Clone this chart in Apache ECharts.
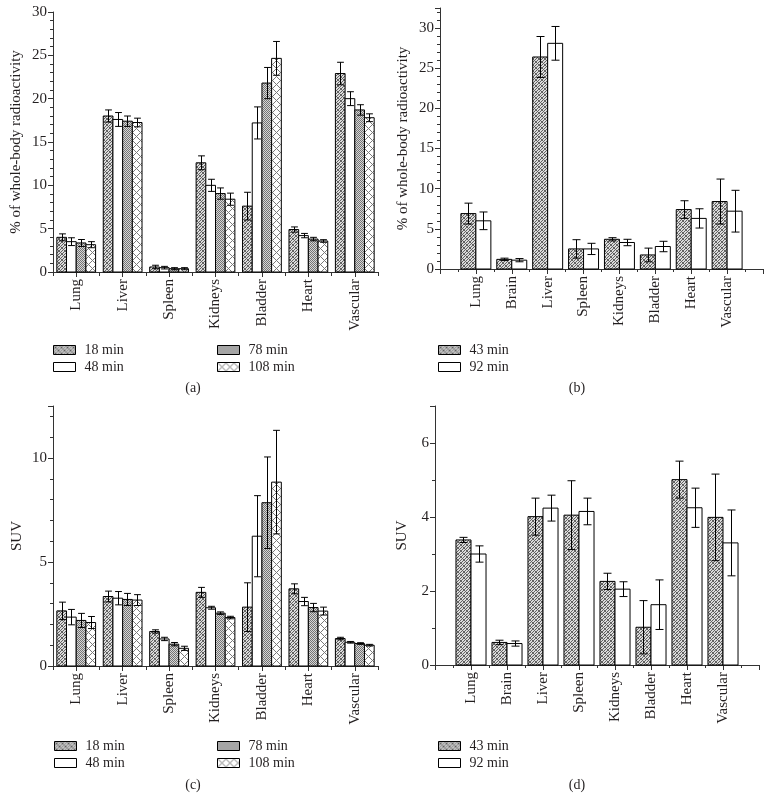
<!DOCTYPE html>
<html><head><meta charset="utf-8">
<script src="https://cdn.jsdelivr.net/npm/echarts@6/dist/echarts.min.js"></script>
<style>html,body{margin:0;padding:0;background:#fff}#c{width:773px;height:811px}</style>
</head><body><div id="c"></div>
<script>
// ---------- data ----------
const organsA = ['Lung','Liver','Spleen','Kidneys','Bladder','Heart','Vascular'];
const organsB = ['Lung','Brain','Liver','Spleen','Kidneys','Bladder','Heart','Vascular'];
const timesA = ['18 min','48 min','78 min','108 min'];
const timesB = ['43 min','92 min'];

// (a) % of whole-body radioactivity
const pctA18 = [4.0, 18.0, 0.58, 12.6, 7.6, 4.9, 22.9];
const pctA18Err = [0.4, 0.7, 0.2, 0.8, 1.6, 0.3, 1.3];
const pctA48 = [3.5, 17.6, 0.5, 10.0, 17.2, 4.2, 20.0];
const pctA48Err = [0.45, 0.8, 0.15, 0.7, 1.85, 0.25, 0.8];
const pctA78 = [3.35, 17.4, 0.38, 9.05, 21.8, 3.8, 18.7];
const pctA78Err = [0.4, 0.6, 0.12, 0.65, 1.8, 0.2, 0.6];
const pctA108 = [3.15, 17.25, 0.38, 8.4, 24.65, 3.58, 17.8];
const pctA108Err = [0.35, 0.5, 0.12, 0.7, 1.95, 0.15, 0.45];

// (b) % of whole-body radioactivity
const pctB43 = [6.9, 1.2, 26.4, 2.5, 3.7, 1.75, 7.4, 8.4];
const pctB43Err = [1.3, 0.15, 2.55, 1.15, 0.2, 0.85, 1.1, 2.8];
const pctB92 = [6.0, 1.1, 28.1, 2.5, 3.3, 2.8, 6.3, 7.2];
const pctB92Err = [1.1, 0.2, 2.1, 0.7, 0.4, 0.65, 1.2, 2.6];

// (c) SUV
const suvC18 = [2.65, 3.34, 1.66, 3.54, 2.83, 3.71, 1.32];
const suvC18Err = [0.42, 0.26, 0.08, 0.24, 1.17, 0.24, 0.06];
const suvC48 = [2.35, 3.26, 1.3, 2.8, 6.24, 3.1, 1.14];
const suvC48Err = [0.37, 0.32, 0.08, 0.07, 1.95, 0.2, 0.04];
const suvC78 = [2.19, 3.2, 1.05, 2.54, 7.85, 2.81, 1.08];
const suvC78Err = [0.34, 0.29, 0.08, 0.06, 2.2, 0.2, 0.04];
const suvC108 = [2.09, 3.17, 0.85, 2.33, 8.84, 2.64, 1.0];
const suvC108Err = [0.29, 0.26, 0.1, 0.06, 2.49, 0.19, 0.04];

// (d) SUV
const suvD43 = [3.38, 0.61, 4.01, 4.05, 2.26, 1.02, 5.01, 3.99];
const suvD43Err = [0.07, 0.06, 0.5, 0.93, 0.22, 0.72, 0.5, 1.17];
const suvD92 = [3.0, 0.58, 4.24, 4.15, 2.05, 1.63, 4.25, 3.3];
const suvD92Err = [0.22, 0.07, 0.35, 0.36, 0.2, 0.67, 0.53, 0.89];

// y tick settings
const yTicksA = {max: 30, interval: 5};
const yTicksB = {max: 32.5, interval: 5};
const yTicksC = {max: 12.5, interval: 5};
const yTicksD = {max: 7, interval: 2};

// ---------- patterns ----------
function makePattern(size, bg, fg, test) {
  const c = document.createElement('canvas');
  c.width = size; c.height = size;
  const g = c.getContext('2d');
  g.fillStyle = bg; g.fillRect(0, 0, size, size);
  g.fillStyle = fg;
  for (let x = 0; x < size; x++) for (let y = 0; y < size; y++) if (test(x, y)) g.fillRect(x, y, 1, 1);
  return {image: c, repeat: 'repeat'};
}
const patFine = makePattern(6, '#dcdcdc', '#626262', (x, y) => (x + y) % 3 === 0 || (x - y + 6) % 6 === 0);
const patDots = makePattern(4, '#d6d6d6', '#747474', (x, y) => (x + y) % 2 === 0);
const patDiamond = makePattern(8, '#ffffff', '#7a7a7a', (x, y) => (x + y) % 8 === 0 || (x - y + 8) % 8 === 0);
const patWhite = '#ffffff';

const FONT = 'Liberation Serif';
const TXT = '#231f20';

function barSeries(name, xi, yi, vals, errs, idx, n, fill, xOffset) {
  return {
    type: 'custom', name: name, xAxisIndex: xi, yAxisIndex: yi,
    data: vals.map((v, i) => [i + xOffset, v, errs[i]]),
    encode: {x: 0, y: 1},
    itemStyle: {color: fill, borderColor: '#000', borderWidth: 1},
    renderItem: function (params, api) {
      const x = api.value(0), v = api.value(1), e = api.value(2);
      const unit = api.size([1, 0])[0];
      const gw = unit * 0.835, bw = gw / n;
      const p0 = api.coord([x, 0]), p1 = api.coord([x, v]);
      const left = p0[0] - gw / 2 + idx * bw;
      const cx = Math.round(left + bw / 2) + 0.5;
      const yt = api.coord([x, v + e])[1], yb = api.coord([x, v - e])[1];
      const cap = Math.min(bw * 0.7, 8) / 2;
      const ls = {stroke: '#000', lineWidth: 1};
      return {type: 'group', children: [
        {type: 'rect', shape: {x: left, y: p1[1], width: bw, height: p0[1] - p1[1]},
          style: {fill: fill, stroke: '#000', lineWidth: 1}},
        {type: 'line', shape: {x1: cx, y1: yt, x2: cx, y2: yb}, style: ls},
        {type: 'line', shape: {x1: cx - cap, y1: yt, x2: cx + cap, y2: yt}, style: ls},
        {type: 'line', shape: {x1: cx - cap, y1: yb, x2: cx + cap, y2: yb}, style: ls}
      ]};
    }
  };
}

const axisLineStyle = {show: true, onZero: false, lineStyle: {color: '#333', width: 1}};

function catAxis(grid, cats) {
  return {type: 'category', gridIndex: grid, position: 'bottom', data: cats,
    axisLine: axisLineStyle,
    axisTick: {show: true, alignWithLabel: true, length: 5, lineStyle: {color: '#333'}},
    axisLabel: {rotate: 90, margin: 7, fontFamily: FONT, fontSize: 15, color: TXT},
    splitLine: {show: false}};
}
function boundaryAxis(grid, n) {
  return {type: 'value', gridIndex: grid, position: 'bottom', min: 0, max: n, interval: 1,
    axisLine: {show: false}, axisLabel: {show: false}, splitLine: {show: false},
    axisTick: {show: true, length: 4, lineStyle: {color: '#333'}}};
}
function valXAxis(grid, cats) {
  return {type: 'value', gridIndex: grid, position: 'bottom', min: 0, max: cats.length + 1, interval: 1,
    axisLine: axisLineStyle,
    axisTick: {show: true, length: 5, lineStyle: {color: '#333'}},
    minorTick: {show: true, splitNumber: 2, length: 3, lineStyle: {color: '#333'}},
    axisLabel: {rotate: 90, margin: 7, fontFamily: FONT, fontSize: 15, color: TXT,
      formatter: v => cats[v - 1] || ''},
    splitLine: {show: false}};
}
function yAxis(grid, t, name, gap, minorSplit) {
  return {type: 'value', gridIndex: grid, min: 0, max: t.max, interval: t.interval,
    name: name, nameLocation: 'middle', nameGap: gap,
    nameTextStyle: {fontFamily: FONT, fontSize: 15, color: TXT},
    axisLine: axisLineStyle,
    axisTick: {show: true, length: 5, lineStyle: {color: '#333'}},
    minorTick: {show: true, splitNumber: minorSplit, length: 3, lineStyle: {color: '#333'}},
    axisLabel: {fontFamily: FONT, fontSize: 15, color: TXT, margin: 6,
      formatter: v => (v % t.interval === 0 ? String(v) : '')},
    splitLine: {show: false}};
}

function legendItem(name, fill) {
  return {name: name, icon: 'rect', itemStyle: {color: fill, borderColor: '#000', borderWidth: 1}};
}
function legend(left, top, items) {
  return {orient: 'vertical', left: left, top: top, padding: 0, itemGap: 3,
    itemWidth: 22, itemHeight: 9, selectedMode: false,
    textStyle: {fontFamily: FONT, fontSize: 14, color: TXT, lineHeight: 13, padding: [0, 0, 0, 4]},
    data: items};
}
function caption(text, x, y) {
  return {type: 'text', x: x, y: y,
    style: {text: text, font: '14px "' + FONT + '"', fill: TXT, align: 'center', verticalAlign: 'middle'}};
}

const fillsA = [patFine, patWhite, patDots, patDiamond];
const fillsB = [patFine, patWhite];

const option = {
  animation: false,
  backgroundColor: '#fff',
  grid: [
    {left: 53, top: 12, right: 395, bottom: 539},
    {left: 440, top: 8, right: 10, bottom: 542},
    {left: 53, top: 406, right: 395, bottom: 145},
    {left: 435, top: 406, right: 14, bottom: 146}
  ],
  xAxis: [
    catAxis(0, organsA), boundaryAxis(0, organsA.length),
    valXAxis(1, organsB),
    catAxis(2, organsA), boundaryAxis(2, organsA.length),
    valXAxis(3, organsB)
  ],
  yAxis: [
    yAxis(0, yTicksA, '% of whole-body radioactivity', 29, 5),
    yAxis(1, yTicksB, '% of whole-body radioactivity', 29, 5),
    yAxis(2, yTicksC, 'SUV', 28, 5),
    yAxis(3, yTicksD, 'SUV', 25, 2)
  ],
  legend: [
    legend(53, 343, [legendItem(timesA[0], fillsA[0]), legendItem(timesA[1], fillsA[1])]),
    legend(217, 343, [legendItem(timesA[2], fillsA[2]), legendItem(timesA[3], fillsA[3])]),
    legend(438, 343, [legendItem(timesB[0], fillsB[0]), legendItem(timesB[1], fillsB[1])]),
    legend(54, 739, [legendItem(timesA[0], fillsA[0]), legendItem(timesA[1], fillsA[1])]),
    legend(217, 739, [legendItem(timesA[2], fillsA[2]), legendItem(timesA[3], fillsA[3])]),
    legend(438, 739, [legendItem(timesB[0], fillsB[0]), legendItem(timesB[1], fillsB[1])])
  ],
  graphic: [
    caption('(a)', 193, 388), caption('(b)', 577, 388),
    caption('(c)', 193, 785), caption('(d)', 577, 785)
  ],
  series: [
    barSeries(timesA[0], 0, 0, pctA18, pctA18Err, 0, 4, fillsA[0], 0),
    barSeries(timesA[1], 0, 0, pctA48, pctA48Err, 1, 4, fillsA[1], 0),
    barSeries(timesA[2], 0, 0, pctA78, pctA78Err, 2, 4, fillsA[2], 0),
    barSeries(timesA[3], 0, 0, pctA108, pctA108Err, 3, 4, fillsA[3], 0),
    barSeries(timesB[0], 2, 1, pctB43, pctB43Err, 0, 2, fillsB[0], 1),
    barSeries(timesB[1], 2, 1, pctB92, pctB92Err, 1, 2, fillsB[1], 1),
    barSeries(timesA[0], 3, 2, suvC18, suvC18Err, 0, 4, fillsA[0], 0),
    barSeries(timesA[1], 3, 2, suvC48, suvC48Err, 1, 4, fillsA[1], 0),
    barSeries(timesA[2], 3, 2, suvC78, suvC78Err, 2, 4, fillsA[2], 0),
    barSeries(timesA[3], 3, 2, suvC108, suvC108Err, 3, 4, fillsA[3], 0),
    barSeries(timesB[0], 5, 3, suvD43, suvD43Err, 0, 2, fillsB[0], 1),
    barSeries(timesB[1], 5, 3, suvD92, suvD92Err, 1, 2, fillsB[1], 1)
  ]
};

const chart = echarts.init(document.getElementById('c'), null, {renderer: 'canvas'});
chart.setOption(option);
</script>
</body></html>
